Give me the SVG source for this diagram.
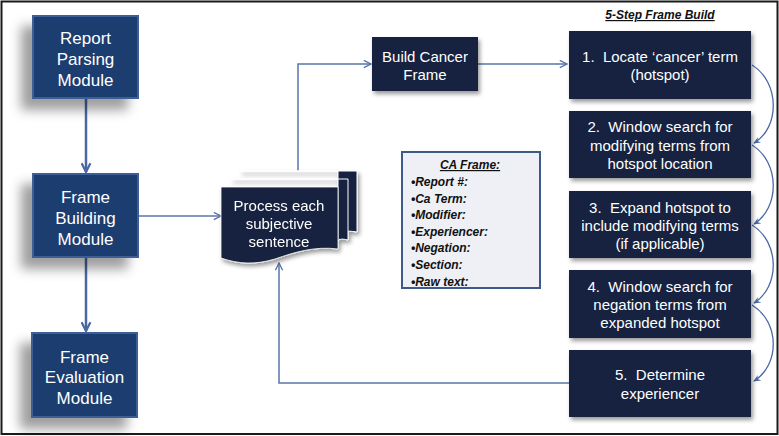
<svg xmlns="http://www.w3.org/2000/svg" width="779" height="436" viewBox="0 0 779 436">
<defs>
<filter id="shL" x="-40%" y="-40%" width="180%" height="180%">
<feGaussianBlur in="SourceAlpha" stdDeviation="6"/>
<feOffset dx="-11" dy="11" result="b"/>
<feFlood flood-color="#000" flood-opacity="0.38"/>
<feComposite in2="b" operator="in"/>
<feMerge><feMergeNode/><feMergeNode in="SourceGraphic"/></feMerge>
</filter>
<filter id="shS" x="-20%" y="-20%" width="140%" height="150%">
<feGaussianBlur in="SourceAlpha" stdDeviation="2"/>
<feOffset dx="2" dy="3" result="b"/>
<feFlood flood-color="#000" flood-opacity="0.4"/>
<feComposite in2="b" operator="in"/>
<feMerge><feMergeNode/><feMergeNode in="SourceGraphic"/></feMerge>
</filter>
<marker id="av" viewBox="0 0 10 10" refX="9" refY="5" markerWidth="9" markerHeight="9" markerUnits="userSpaceOnUse" orient="auto">
<path d="M1,1 L9,5 L1,9" fill="none" stroke="#5672a8" stroke-width="1.5"/>
</marker>
<marker id="avB" viewBox="0 0 10 10" refX="9" refY="5" markerWidth="11" markerHeight="11" markerUnits="userSpaceOnUse" orient="auto">
<path d="M1,1 L9,5 L1,9" fill="none" stroke="#4a68a2" stroke-width="2"/>
</marker>
<marker id="ac" viewBox="0 0 10 10" refX="8" refY="5" markerWidth="8" markerHeight="8" markerUnits="userSpaceOnUse" orient="auto">
<path d="M0,1 L9,5 L0,9 L3,5 Z" fill="#4a68a2"/>
</marker>
</defs>
<style>
.mod{fill:#1c3e70;stroke:#3a5f96;stroke-width:2}
.dk{fill:#13223f}
.wt{font-family:"Liberation Sans",Arial,sans-serif;fill:#fff;text-anchor:middle}
.m{font-size:17px}
.s{font-size:15px}
.bi{font-family:"Liberation Sans",Arial,sans-serif;font-weight:bold;font-style:italic;font-size:12px;fill:#111}
.c{fill:none;stroke:#5a76aa;stroke-width:1.5}
.cb{fill:none;stroke:#4a68a2;stroke-width:2.5}
.cv{fill:none;stroke:#4a68a2;stroke-width:1.3}
</style>
<rect x="0" y="0" width="779" height="436" fill="#fff"/>
<rect x="1.5" y="1.5" width="776" height="432.5" fill="none" stroke="#1a1a1a" stroke-width="2"/>

<g id="connectors">
<line class="cb" x1="86" y1="98" x2="86" y2="172" marker-end="url(#avB)"/>
<line class="cb" x1="86" y1="257" x2="86" y2="331" marker-end="url(#avB)"/>
<line class="c" x1="138" y1="216" x2="221" y2="216" marker-end="url(#av)"/>
<polyline class="c" points="298,171 298,64 371,64" marker-end="url(#av)"/>
<line class="c" x1="478" y1="64" x2="567" y2="64" marker-end="url(#av)"/>
<polyline class="c" points="569,383 279,383 279,263" marker-end="url(#av)"/>
<path class="cv" d="M752,65 C780,82 780,128 754,143" marker-end="url(#ac)"/>
<path class="cv" d="M752,145 C780,162 780,208 754,224" marker-end="url(#ac)"/>
<path class="cv" d="M752,225 C780,242 780,287 754,303" marker-end="url(#ac)"/>
<path class="cv" d="M752,305 C780,322 780,365 754,381" marker-end="url(#ac)"/>
</g>

<g id="report-parsing">
<rect class="mod" x="33" y="16" width="105" height="82" filter="url(#shL)"/>
<text class="wt m" x="85.5" y="44">Report</text>
<text class="wt m" x="85.5" y="65">Parsing</text>
<text class="wt m" x="85.5" y="86">Module</text>
</g>
<g id="frame-building">
<rect class="mod" x="33" y="174" width="105" height="83" filter="url(#shL)"/>
<text class="wt m" x="85.5" y="203">Frame</text>
<text class="wt m" x="85.5" y="224">Building</text>
<text class="wt m" x="85.5" y="245">Module</text>
</g>
<g id="frame-evaluation">
<rect class="mod" x="32" y="333" width="105" height="84" filter="url(#shL)"/>
<text class="wt m" x="84.5" y="363">Frame</text>
<text class="wt m" x="84.5" y="383">Evaluation</text>
<text class="wt m" x="84.5" y="404">Module</text>
</g>

<g id="process-sentence" filter="url(#shS)">
<path class="dk" d="M240,171 H357 V232 C345,230 340,232 338,233 V171 Z" stroke="#fff" stroke-width="1"/>
<path class="dk" d="M231,179 H348 V240 C340,238 338,240 338,241 V179 Z" stroke="#fff" stroke-width="1"/>
<path class="dk" d="M221,187 H338 V249 C315,246 295,252 275,259 C255,265 238,264 221,258 Z" stroke="#fff" stroke-width="0.8"/>
<text class="wt s" x="279" y="211">Process each</text>
<text class="wt s" x="279" y="229">subjective</text>
<text class="wt s" x="279" y="247">sentence</text>
</g>

<g id="build-cancer-frame">
<rect class="dk" x="372" y="37" width="106" height="54" filter="url(#shS)"/>
<text class="wt s" x="425" y="62">Build Cancer</text>
<text class="wt s" x="425" y="80">Frame</text>
</g>

<g id="ca-frame">
<rect x="402" y="152" width="138" height="136" fill="#eef0f5" stroke="#3e5a88" stroke-width="2"/>
<text class="bi" x="470" y="169" text-anchor="middle" text-decoration="underline" font-size="12.5">CA Frame:</text>
<g font-size="12.5">
<text class="bi" x="411" y="186" font-size="12.5">•Report #:</text>
<text class="bi" x="411" y="203" font-size="12.5">•Ca Term:</text>
<text class="bi" x="411" y="219" font-size="12.5">•Modifier:</text>
<text class="bi" x="411" y="236" font-size="12.5">•Experiencer:</text>
<text class="bi" x="411" y="252" font-size="12.5">•Negation:</text>
<text class="bi" x="411" y="269" font-size="12.5">•Section:</text>
<text class="bi" x="411" y="286" font-size="12.5">•Raw text:</text>
</g>
</g>

<text class="bi" x="660" y="19" text-anchor="middle" text-decoration="underline">5-Step Frame Build</text>

<g id="step1">
<rect class="dk" x="569" y="31" width="182" height="68" filter="url(#shS)"/>
<text class="wt s" x="660" y="62" xml:space="preserve">1.  Locate ‘cancer’ term</text>
<text class="wt s" x="660" y="80">(hotspot)</text>
</g>
<g id="step2">
<rect class="dk" x="569" y="111" width="182" height="67" filter="url(#shS)"/>
<text class="wt s" x="660" y="132" xml:space="preserve">2.  Window search for</text>
<text class="wt s" x="660" y="151">modifying terms from</text>
<text class="wt s" x="660" y="169">hotspot location</text>
</g>
<g id="step3">
<rect class="dk" x="569" y="191" width="182" height="67" filter="url(#shS)"/>
<text class="wt s" x="660" y="213" xml:space="preserve">3.  Expand hotspot to</text>
<text class="wt s" x="660" y="231">include modifying terms</text>
<text class="wt s" x="660" y="249">(if applicable)</text>
</g>
<g id="step4">
<rect class="dk" x="569" y="270" width="182" height="68" filter="url(#shS)"/>
<text class="wt s" x="660" y="292" xml:space="preserve">4.  Window search for</text>
<text class="wt s" x="660" y="310">negation terms from</text>
<text class="wt s" x="660" y="328">expanded hotspot</text>
</g>
<g id="step5">
<rect class="dk" x="569" y="350" width="182" height="67" filter="url(#shS)"/>
<text class="wt s" x="660" y="380" xml:space="preserve">5.  Determine</text>
<text class="wt s" x="660" y="399">experiencer</text>
</g>
</svg>
